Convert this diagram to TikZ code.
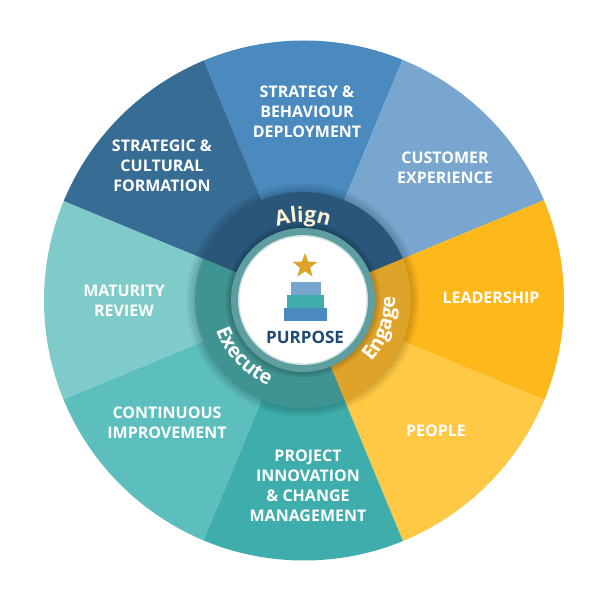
\documentclass[tikz,border=0pt]{standalone}
\usepackage{fontspec}
\setmainfont{Open Sans}
\usetikzlibrary{shapes.geometric, decorations.text, calc}
\definecolor{WheelDeep}{HTML}{376C94}
\definecolor{WheelBlue}{HTML}{4A8ABF}
\definecolor{WheelSky}{HTML}{78A6CE}
\definecolor{WheelAmber}{HTML}{FDB81C}
\definecolor{WheelGold}{HTML}{FFC845}
\definecolor{WheelTeal}{HTML}{3EADAB}
\definecolor{WheelAqua}{HTML}{5CBFBE}
\definecolor{WheelMint}{HTML}{7ECBC9}
\definecolor{RingAlign}{HTML}{2A5679}
\definecolor{RingEngage}{HTML}{E0A32A}
\definecolor{RingExecute}{HTML}{3F9391}
\definecolor{RingHalo}{HTML}{5F9EA0}
\definecolor{PurposeNavy}{HTML}{1F4A70}
\definecolor{AlignCream}{HTML}{FBF3D5}
\tikzset{
    seglabel/.style={text=white, font=\fontsize{16}{20}\selectfont\bfseries, align=center},
    layerbox/.style={draw=none, minimum height=13.2pt, inner sep=0pt, anchor=center}
}
\begin{document}
\begin{tikzpicture}[x=1pt, y=1pt]
    \useasboundingbox (0,0) rectangle (600,600);
    \coordinate (hub) at (303,300);
    \coordinate (rim) at (304,299.5);
    % Wheel
    \begin{scope}
        \clip (rim) circle (260);
        \foreach \a/\c in {112.5/WheelBlue, 67.5/WheelSky, 22.5/WheelAmber, -22.5/WheelGold, -67.5/WheelTeal, -112.5/WheelAqua, -157.5/WheelMint, 157.5/WheelDeep}
            \fill[\c] (hub) -- ($(hub)+(\a:400)$) -- ($(hub)+(\a-45:400)$) -- cycle;
        % Shadow round the ring
        \foreach \r in {1,...,9}
            \fill[black, opacity=0.018] (hub) circle (108+\r);
    \end{scope}
    % Ring
    \fill[RingAlign] (hub) -- ++(157.5:108) arc (157.5:22.5:108) -- cycle;
    \fill[RingEngage] (hub) -- ++(22.5:108) arc (22.5:-67.5:108) -- cycle;
    \fill[RingExecute] (hub) -- ++(-67.5:108) arc (-67.5:-202.5:108) -- cycle;
    \foreach \r in {1,...,6}
        \fill[black, opacity=0.03] (hub) circle (72+\r);
    \fill[RingHalo] (hub) circle (72);
    \fill[white!70!RingHalo] (hub) circle (65);
    \fill[white] (hub) circle (63.5);
    % Ring labels
    \path[decorate, decoration={text along path, text align=center, text={|\fontsize{21}{21}\selectfont\bfseries\color{AlignCream}|Align}}]
        ($(hub)+(140:78)$) arc (140:40:78);
    \path[decorate, decoration={text along path, text align=center, text={|\fontsize{20}{20}\selectfont\bfseries\color{white}|Engage}}]
        ($(hub)+(-70:92)$) arc (-70:30:92);
    \path[decorate, decoration={text along path, text align=center, text={|\fontsize{20}{20}\selectfont\bfseries\color{white}|Execute}}]
        ($(hub)+(165:92)$) arc (165:282:92);
    % Purpose
    \node[star, star points=5, star point ratio=2.4, fill=RingEngage, minimum size=26pt, inner sep=0pt] (star) at (305,334) {};
    \node[layerbox, fill=WheelSky, minimum width=30pt] (layertop) at (305.7,311.6) {};
    \node[layerbox, fill=WheelTeal, minimum width=37.6pt] (layermid) at (305.5,298.6) {};
    \node[layerbox, fill=WheelBlue, minimum width=43.3pt] (layerbase) at (305.6,285.6) {};
    \node[text=PurposeNavy, font=\fontsize{17}{18}\selectfont\bfseries] (purpose) at (305,263) {PURPOSE};
    % Segment labels
    \node[seglabel] (strategy) at (307,488) {STRATEGY \&\\BEHAVIOUR\\DEPLOYMENT};
    \node[seglabel] (customer) at (445,432) {CUSTOMER\\EXPERIENCE};
    \node[seglabel] (leadership) at (491,302) {LEADERSHIP};
    \node[seglabel] (people) at (436,169) {PEOPLE};
    \node[seglabel] (project) at (308,114) {PROJECT\\INNOVATION\\\& CHANGE\\MANAGEMENT};
    \node[seglabel] (continuous) at (167,177) {CONTINUOUS\\IMPROVEMENT};
    \node[seglabel] (maturity) at (124,299) {MATURITY\\REVIEW};
    \node[seglabel] (cultural) at (162,434) {STRATEGIC \&\\CULTURAL\\FORMATION};
\end{tikzpicture}
\end{document}
